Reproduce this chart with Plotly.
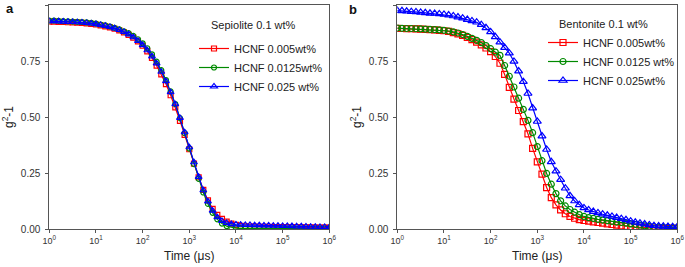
import plotly.graph_objects as go

# ---------------- data ----------------
time_us = [1, 1.259, 1.585, 1.995, 2.512, 3.162, 3.981, 5.012, 6.310, 7.943,
           10, 12.59, 15.85, 19.95, 25.12, 31.62, 39.81, 50.12, 63.10, 79.43,
           100, 125.9, 158.5, 199.5, 251.2, 316.2, 398.1, 501.2, 631.0, 794.3,
           1000, 1259, 1585, 1995, 2512, 3162, 3981, 5012, 6310, 7943,
           1e4, 12589, 15849, 19953, 25119, 31623, 39811, 50119, 63096, 79433,
           1e5, 125893, 158489, 199526, 251189, 316228, 398107, 501187, 630957, 794328, 1e6]

sep_hcnf_0005 = [0.926, 0.926, 0.925, 0.924, 0.923, 0.922, 0.921, 0.920, 0.918, 0.916,
                 0.913, 0.909, 0.905, 0.900, 0.894, 0.887, 0.878, 0.867, 0.854, 0.838,
                 0.818, 0.793, 0.764, 0.729, 0.690, 0.647, 0.597, 0.543, 0.483, 0.420,
                 0.356, 0.292, 0.231, 0.175, 0.128, 0.090, 0.063, 0.045, 0.033, 0.024,
                 0.018, 0.014, 0.012, 0.011, 0.011, 0.010, 0.010, 0.010, 0.009, 0.009,
                 0.009, 0.008, 0.008, 0.008, 0.007, 0.007, 0.007, 0.006, 0.006, 0.006, 0.006]
sep_hcnf_00125 = [0.930, 0.930, 0.929, 0.928, 0.927, 0.926, 0.925, 0.924, 0.922, 0.920,
                  0.917, 0.913, 0.909, 0.904, 0.898, 0.891, 0.882, 0.874, 0.862, 0.847,
                  0.829, 0.807, 0.780, 0.747, 0.709, 0.665, 0.614, 0.558, 0.495, 0.428,
                  0.359, 0.290, 0.224, 0.163, 0.112, 0.072, 0.043, 0.024, 0.013, 0.007,
                  0.004, 0.003, 0.003, 0.003, 0.003, 0.003, 0.003, 0.003, 0.003, 0.003,
                  0.003, 0.002, 0.002, 0.002, 0.002, 0.002, 0.002, 0.002, 0.002, 0.002, 0.002]
sep_hcnf_0025 = [0.928, 0.928, 0.927, 0.926, 0.925, 0.924, 0.923, 0.922, 0.920, 0.918,
                 0.915, 0.911, 0.907, 0.902, 0.896, 0.889, 0.880, 0.869, 0.856, 0.840,
                 0.821, 0.798, 0.771, 0.739, 0.702, 0.660, 0.611, 0.557, 0.496, 0.432,
                 0.365, 0.298, 0.233, 0.173, 0.123, 0.082, 0.053, 0.036, 0.027, 0.022,
                 0.020, 0.019, 0.018, 0.018, 0.017, 0.017, 0.016, 0.016, 0.015, 0.015,
                 0.014, 0.014, 0.013, 0.012, 0.012, 0.011, 0.010, 0.010, 0.009, 0.009, 0.008]

ben_hcnf_0005 = [0.896, 0.895, 0.894, 0.894, 0.893, 0.892, 0.891, 0.890, 0.889, 0.887,
                 0.885, 0.882, 0.877, 0.871, 0.864, 0.855, 0.845, 0.834, 0.822, 0.808,
                 0.792, 0.770, 0.740, 0.690, 0.632, 0.580, 0.529, 0.479, 0.425, 0.360,
                 0.300, 0.245, 0.185, 0.140, 0.108, 0.085, 0.068, 0.056, 0.048, 0.042,
                 0.038, 0.035, 0.032, 0.029, 0.026, 0.023, 0.020, 0.017, 0.014, 0.012,
                 0.010, 0.008, 0.007, 0.006, 0.005, 0.004, 0.004, 0.003, 0.003, 0.003, 0.003]
ben_hcnf_00125 = [0.897, 0.896, 0.895, 0.895, 0.894, 0.893, 0.892, 0.891, 0.890, 0.889,
                  0.887, 0.884, 0.880, 0.875, 0.868, 0.860, 0.851, 0.842, 0.832, 0.819,
                  0.805, 0.790, 0.775, 0.730, 0.682, 0.634, 0.584, 0.534, 0.485, 0.430,
                  0.368, 0.305, 0.248, 0.200, 0.158, 0.126, 0.103, 0.087, 0.075, 0.064,
                  0.056, 0.051, 0.047, 0.043, 0.040, 0.037, 0.034, 0.031, 0.029, 0.026,
                  0.023, 0.020, 0.017, 0.014, 0.012, 0.010, 0.008, 0.007, 0.006, 0.005, 0.005]
ben_hcnf_0025 = [0.975, 0.974, 0.972, 0.970, 0.969, 0.967, 0.965, 0.963, 0.962, 0.960,
                 0.958, 0.955, 0.951, 0.946, 0.941, 0.935, 0.929, 0.923, 0.912, 0.898,
                 0.880, 0.858, 0.834, 0.810, 0.785, 0.748, 0.705, 0.658, 0.605, 0.540,
                 0.480, 0.415, 0.355, 0.300, 0.258, 0.220, 0.182, 0.148, 0.125, 0.108,
                 0.094, 0.085, 0.078, 0.072, 0.066, 0.061, 0.056, 0.051, 0.046, 0.041,
                 0.035, 0.030, 0.026, 0.022, 0.018, 0.015, 0.013, 0.012, 0.011, 0.010, 0.010]

names_a = ["HCNF 0.005wt%", "HCNF 0.0125wt%", "HCNF 0.025 wt%"]
names_b = ["HCNF 0.005wt%", "HCNF 0.0125 wt%", "HCNF 0.025wt%"]
x_tickvals = [1, 10, 100, 1000, 1e4, 1e5, 1e6]
x_ticktext = ["10<sup>0</sup>", "10<sup>1</sup>", "10<sup>2</sup>", "10<sup>3</sup>",
              "10<sup>4</sup>", "10<sup>5</sup>", "10<sup>6</sup>"]
y_tickvals = [0, 0.25, 0.5, 0.75, 1.0]
y_ticktext = ["0.00", "0.25", "0.50", "0.75", "1.00"]

# ---------------- figure ----------------
FONT = "Liberation Sans, Arial, sans-serif"
colors = ["#ff0000", "#008a00", "#0000ff"]
symbols = ["square-open", "circle-open", "triangle-up-open"]

fig = go.Figure()
series_a = [sep_hcnf_0005, sep_hcnf_00125, sep_hcnf_0025]
series_b = [ben_hcnf_0005, ben_hcnf_00125, ben_hcnf_0025]
sizes_a = [5, 5, 6]
sizes_b = [6, 6, 7]
for i in range(3):
    fig.add_trace(go.Scatter(
        x=time_us, y=series_a[i], name=names_a[i], mode="lines+markers",
        line=dict(color=colors[i], width=1.2),
        marker=dict(symbol=symbols[i], size=sizes_a[i], color=colors[i],
                    line=dict(width=1.2, color=colors[i])),
        xaxis="x", yaxis="y", legend="legend"))
for i in range(3):
    fig.add_trace(go.Scatter(
        x=time_us, y=series_b[i], name=names_b[i], mode="lines+markers",
        line=dict(color=colors[i], width=1.2),
        marker=dict(symbol=symbols[i], size=sizes_b[i], color=colors[i],
                    line=dict(width=1.2, color=colors[i])),
        xaxis="x2", yaxis="y2", legend="legend2"))

ydom = [38 / 267, 262 / 267]
xcommon = dict(type="log", range=[0, 6], tickvals=x_tickvals, ticktext=x_ticktext,
               automargin=False,
               showline=True, linecolor="#555", linewidth=1, mirror=True,
               ticks="outside", ticklen=3, tickcolor="#555", showgrid=False,
               zeroline=False, tickfont=dict(family=FONT, size=9, color="#333"),
               title=dict(text="Time (μs)", font=dict(family=FONT, size=12, color="#222"),
                          standoff=6))
ycommon = dict(range=[0, 1.0], tickvals=y_tickvals, ticktext=y_ticktext,
               automargin=False,
               showline=True, linecolor="#555", linewidth=1, mirror=True,
               ticks="outside", ticklen=3, tickcolor="#555", showgrid=False,
               zeroline=False, tickfont=dict(family=FONT, size=10, color="#333"),
               ticklabelstandoff=3,
               title=dict(text="g<sup>2</sup>-1", font=dict(family=FONT, size=12, color="#222"),
                          standoff=4))

legcommon = dict(bgcolor="rgba(0,0,0,0)", borderwidth=0, itemwidth=30,
                 font=dict(family=FONT, size=11, color="#222"),
                 xanchor="left", yanchor="top", tracegroupgap=0)

fig.update_layout(
    template="none",
    width=685, height=267,
    margin=dict(l=0, r=0, t=0, b=0, autoexpand=False),
    paper_bgcolor="white", plot_bgcolor="white",
    showlegend=True,
    xaxis=dict(domain=[49.3 / 685, 329.3 / 685], anchor="y", **xcommon),
    yaxis=dict(domain=ydom, anchor="x", **ycommon),
    xaxis2=dict(domain=[397.3 / 685, 677.3 / 685], anchor="y2", **xcommon),
    yaxis2=dict(domain=ydom, anchor="x2", **ycommon),
    legend=dict(x=194 / 685, y=(267 - 34) / 267, **legcommon),
    legend2=dict(x=543 / 685, y=(267 - 28) / 267, **legcommon),
    annotations=[
        dict(text="Sepiolite 0.1 wt%", x=253 / 685, y=(267 - 25) / 267, xref="paper", yref="paper",
             xanchor="center", yanchor="middle",
             showarrow=False, font=dict(family=FONT, size=11, color="#222")),
        dict(text="Bentonite 0.1 wt%", x=603 / 685, y=(267 - 24) / 267, xref="paper", yref="paper",
             xanchor="center", yanchor="middle",
             showarrow=False, font=dict(family=FONT, size=11, color="#222")),
        dict(text="<b>a</b>", x=4 / 685, y=(267 - 9) / 267, xref="paper", yref="paper",
             xanchor="left", yanchor="middle", showarrow=False,
             font=dict(family=FONT, size=13, color="#111")),
        dict(text="<b>b</b>", x=347 / 685, y=(267 - 10) / 267, xref="paper", yref="paper",
             xanchor="left", yanchor="middle", showarrow=False,
             font=dict(family=FONT, size=13, color="#111")),
    ],
)

fig.write_html("out.html", config={"displayModeBar": False},
               post_script="document.body.style.margin='0';")
